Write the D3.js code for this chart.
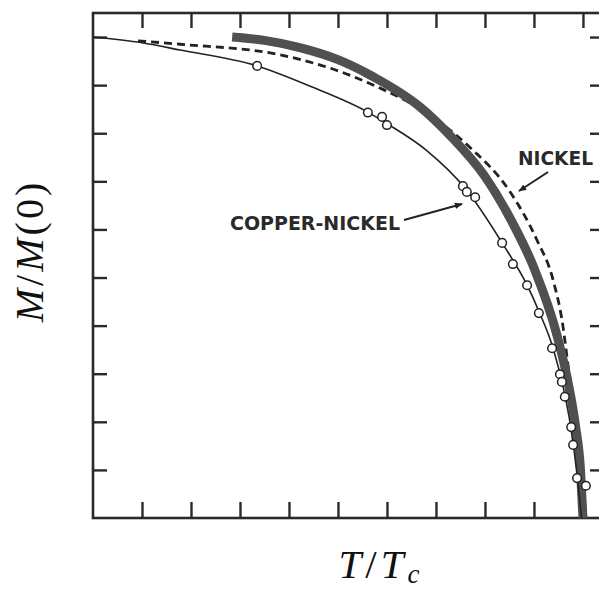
<!DOCTYPE html>
<html>
<head>
<meta charset="utf-8">
<script src="https://cdn.jsdelivr.net/npm/d3@7"></script>
<style>
  body { margin: 0; background: #fff; }
  svg { display: block; }
</style>
</head>
<body>
<script>
// reduced temperature / reduced magnetisation
var tickVals = [0.1, 0.2, 0.3, 0.4, 0.5, 0.6, 0.7, 0.8, 0.9, 1.0];

// copper-nickel fit (thin solid line)
var cuNiLine = [[0, 1.0], [0.1, 0.988], [0.178, 0.973], [0.335, 0.94], [0.45, 0.895],
  [0.559, 0.845], [0.6, 0.82], [0.68, 0.765], [0.76, 0.685], [0.835, 0.572],
  [0.886, 0.484], [0.91, 0.43], [0.94, 0.35], [0.96, 0.27], [0.975, 0.19],
  [0.988, 0.09], [0.997, 0]];

// copper-nickel measurements (open circles)
var cuNiPoints = [[0.335, 0.94], [0.561, 0.843], [0.59, 0.834], [0.6, 0.817],
  [0.755, 0.69], [0.763, 0.678], [0.78, 0.667], [0.835, 0.572], [0.857, 0.528],
  [0.886, 0.484], [0.91, 0.426], [0.937, 0.353], [0.953, 0.299], [0.957, 0.283],
  [0.963, 0.252], [0.976, 0.189], [0.98, 0.152], [0.988, 0.083], [1.006, 0.067]];

// nickel (dashed)
var nickel = [[0.092, 0.992], [0.178, 0.985], [0.382, 0.963], [0.559, 0.906],
  [0.708, 0.823], [0.77, 0.77], [0.85, 0.68], [0.906, 0.578], [0.939, 0.495],
  [0.959, 0.40], [0.969, 0.322], [0.985, 0.2], [1.0, 0]];

// theory (thick gray)
var theory = [[0.284, 1.0], [0.35, 0.993], [0.422, 0.978], [0.5, 0.953],
  [0.571, 0.918], [0.667, 0.855], [0.729, 0.795], [0.8, 0.71], [0.853, 0.62],
  [0.9, 0.52], [0.947, 0.38], [0.97, 0.28], [0.985, 0.19], [0.995, 0.1],
  [1.0, 0]];

var svgWidth = 599;
var svgHeight = 590;

var svg = d3.select("body")
  .append("svg")
  .attr("width", svgWidth)
  .attr("height", svgHeight);

var plotLeft = 93, plotRight = 605, plotTop = 13, plotBottom = 518;

var x = d3.scaleLinear().domain([0, 1.045]).range([plotLeft, plotRight]);
var y = d3.scaleLinear().domain([0, 1.05]).range([plotBottom, plotTop]);

var axisColor = "#2a2a2a";

function styleAxis(g) {
  g.select(".domain").remove();
  g.selectAll(".tick line").attr("stroke", axisColor).attr("stroke-width", 2.4);
  g.selectAll(".tick text").remove();
}

svg.append("g").attr("transform", `translate(0,${plotBottom})`)
  .call(d3.axisBottom(x).tickValues(tickVals).tickSize(-16).tickFormat(""))
  .call(styleAxis);
svg.append("g").attr("transform", `translate(0,${plotTop})`)
  .call(d3.axisTop(x).tickValues(tickVals).tickSize(-15).tickFormat(""))
  .call(styleAxis);
svg.append("g").attr("transform", `translate(${plotLeft},0)`)
  .call(d3.axisLeft(y).tickValues(tickVals).tickSize(-14).tickFormat(""))
  .call(styleAxis);
svg.append("g").attr("transform", `translate(${plotRight},0)`)
  .call(d3.axisRight(y).tickValues(tickVals).tickSize(-15).tickFormat(""))
  .call(styleAxis);

svg.append("rect")
  .attr("x", plotLeft).attr("y", plotTop)
  .attr("width", plotRight - plotLeft).attr("height", plotBottom - plotTop)
  .attr("fill", "none")
  .attr("stroke", axisColor)
  .attr("stroke-width", 2.6);

var line = d3.line()
  .x(d => x(d[0]))
  .y(d => y(d[1]))
  .curve(d3.curveMonotoneX);

// nickel dashed
svg.append("path")
  .datum(nickel)
  .attr("d", line)
  .attr("fill", "none")
  .attr("stroke", "#222")
  .attr("stroke-width", 2.8)
  .attr("stroke-dasharray", "8,5");

// thick theory curve
svg.append("path")
  .datum(theory)
  .attr("d", line)
  .attr("fill", "none")
  .attr("stroke", "#505050")
  .attr("stroke-width", 9);

// copper-nickel thin line
svg.append("path")
  .datum(cuNiLine)
  .attr("d", line)
  .attr("fill", "none")
  .attr("stroke", "#222")
  .attr("stroke-width", 1.6);

svg.append("g")
  .selectAll("circle")
  .data(cuNiPoints)
  .join("circle")
  .attr("cx", d => x(d[0]))
  .attr("cy", d => y(d[1]))
  .attr("r", 4.3)
  .attr("fill", "#fff")
  .attr("stroke", "#222")
  .attr("stroke-width", 1.5);

// annotations
svg.append("defs").append("marker")
  .attr("id", "head")
  .attr("viewBox", "0 0 10 10")
  .attr("refX", 9).attr("refY", 5)
  .attr("markerWidth", 4).attr("markerHeight", 4)
  .attr("orient", "auto")
  .append("path")
  .attr("d", "M0,1 L10,5 L0,9 Z")
  .attr("fill", "#222");

svg.append("text")
  .attr("x", 518).attr("y", 165)
  .attr("font-family", "DejaVu Sans")
  .attr("font-weight", "bold")
  .attr("font-size", 20)
  .attr("textLength", 75)
  .attr("lengthAdjust", "spacingAndGlyphs")
  .attr("fill", "#2a2a2a")
  .text("NICKEL");

svg.append("line")
  .attr("x1", 548).attr("y1", 172)
  .attr("x2", 519).attr("y2", 191)
  .attr("stroke", "#222").attr("stroke-width", 2)
  .attr("marker-end", "url(#head)");

svg.append("text")
  .attr("x", 230).attr("y", 230)
  .attr("font-family", "DejaVu Sans")
  .attr("font-weight", "bold")
  .attr("font-size", 20)
  .attr("textLength", 170)
  .attr("lengthAdjust", "spacingAndGlyphs")
  .attr("fill", "#2a2a2a")
  .text("COPPER-NICKEL");

svg.append("line")
  .attr("x1", 404).attr("y1", 220)
  .attr("x2", 462).attr("y2", 204)
  .attr("stroke", "#222").attr("stroke-width", 2)
  .attr("marker-end", "url(#head)");

// axis titles
var yTitle = svg.append("text")
  .attr("transform", "translate(43,251) rotate(-90)")
  .attr("text-anchor", "middle")
  .attr("font-family", "Liberation Serif")
  .attr("font-size", 40)
  .attr("letter-spacing", 3)
  .attr("fill", "#111");
yTitle.append("tspan").attr("font-style", "italic").text("M");
yTitle.append("tspan").text("/");
yTitle.append("tspan").attr("font-style", "italic").text("M");
yTitle.append("tspan").text("(0)");

var xTitle = svg.append("text")
  .attr("x", 381).attr("y", 578)
  .attr("text-anchor", "middle")
  .attr("font-family", "Liberation Serif")
  .attr("font-size", 41)
  .attr("letter-spacing", 4)
  .attr("fill", "#111");
xTitle.append("tspan").attr("font-style", "italic").text("T");
xTitle.append("tspan").text("/");
xTitle.append("tspan").attr("font-style", "italic").text("T");
xTitle.append("tspan").attr("font-style", "italic").attr("font-size", 27).attr("dy", 5).text("c");
</script>
</body>
</html>
